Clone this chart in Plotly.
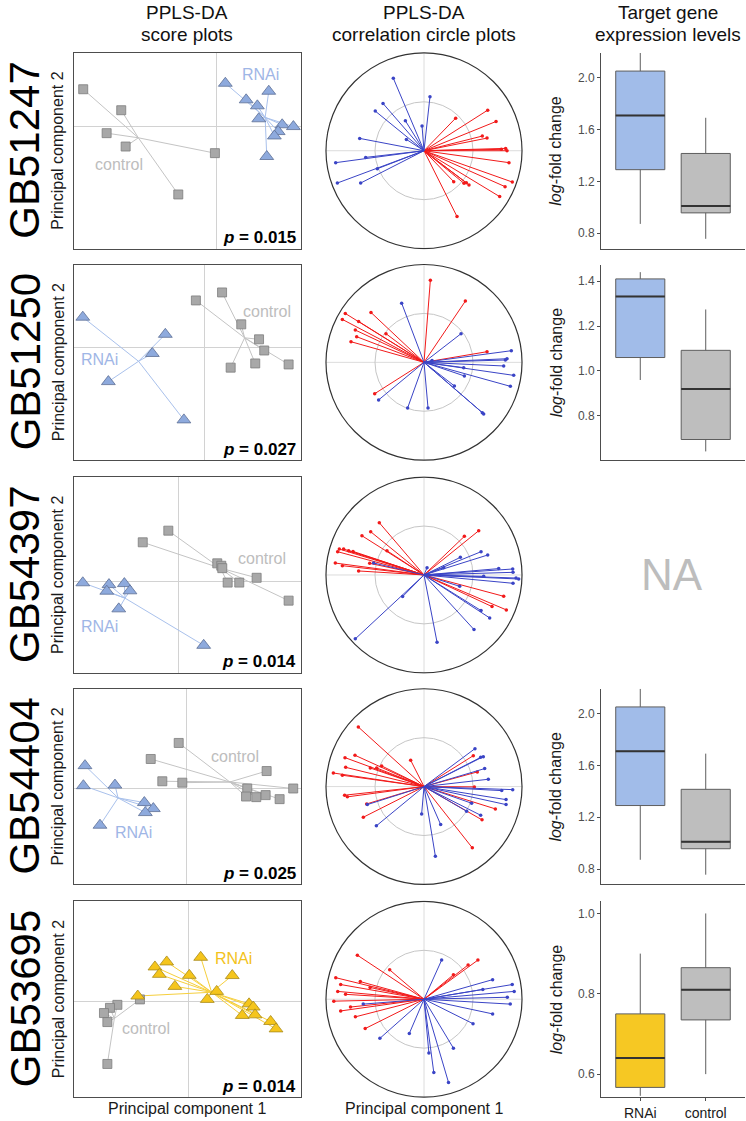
import plotly.graph_objects as go

W, H = 746, 1121
FONT = "Liberation Sans, Arial, sans-serif"

# ---------------- data ----------------
genes = ["GB51247", "GB51250", "GB54397", "GB54404", "GB53695"]
p_values = ["0.015", "0.027", "0.014", "0.025", "0.014"]

# PPLS-DA scores (component 1, component 2)
ctrl_pc1 = [
    [-6.67, -4.77, -5.50, -4.55, -0.09, -1.92],
    [-0.42, 0.89, 1.85, 2.74, 3.00, 2.55, 1.32, 4.22],
    [-0.50, -1.78, 1.95, 2.15, 2.20, 3.92, 2.47, 3.05, 5.52],
    [-0.40, -1.80, 4.00, -1.22, -0.22, 3.03, 5.33, 2.97, 3.48, 3.95, 4.65],
    [-2.42, -3.55, -3.92, -4.22, -4.05, -4.05],
]
ctrl_pc2 = [
    [1.85, 0.80, -0.35, -1.02, -1.35, -3.42],
    [2.37, 2.77, 1.17, 0.42, -0.14, -0.79, -1.00, -0.84],
    [2.55, 1.97, 0.92, 0.80, 0.68, 0.20, -0.04, -0.04, -0.94],
    [2.25, 1.45, 0.85, 0.34, 0.27, -0.02, -0.02, -0.42, -0.45, -0.35, -0.55],
    [0.08, -0.19, -0.34, -0.60, -1.05, -3.14],
]
rnai_pc1 = [
    [0.43, 1.47, 2.60, 2.03, 2.10, 3.27, 3.83, 3.07, 2.88, 2.50],
    [-6.08, -1.95, -2.60, -4.80, -1.02],
    [-4.78, -3.47, -3.58, -2.70, -2.42, -2.98, 1.27],
    [-5.09, -5.17, -3.59, -2.12, -1.67, -2.07, -4.34],
    [-2.53, -1.67, -1.08, -1.45, -0.67, 0.05, 0.62, 2.20, 1.42, 0.95, 3.04, 3.25, 2.70, 3.34, 4.12, 4.39],
]
rnai_pc2 = [
    [2.15, 1.32, 1.75, 1.02, 0.37, 0.07, -0.02, -0.27, -0.49, -1.52],
    [1.53, 0.67, -0.29, -1.70, -3.62],
    [-0.05, -0.14, -0.47, -0.09, -0.45, -1.35, -3.17],
    [1.12, 0.12, 0.15, -0.72, -1.02, -1.22, -1.85],
    [0.25, 1.70, 1.95, 1.33, 0.73, 1.28, 2.18, 1.27, 0.48, 0.08, -0.14, -0.30, -0.72, -0.69, -1.02, -1.39],
]

# correlation circle loadings (x, y) - red and blue variables
red_x = [
    [0.650, 0.323, 0.735, 0.595, 0.643, 0.833, 0.847, 0.789, 0.867, 0.901, 0.827, 0.772, 0.303, 0.408, 0.459, 0.432, 0.337],
    [0.065, 0.422, -0.803, -0.833, -0.541, -0.667, -0.701, -0.687, -0.745, -0.388, 0.643, -0.503],
    [-0.456, -0.544, -0.633, -0.864, -0.820, -0.881, -0.769, -0.724, -0.905, -0.833, -0.554, -0.667, -0.378, 0.412, 0.558, 0.813, 0.840, 0.694],
    [-0.670, -0.704, -0.806, -0.799, -0.548, -0.483, -0.432, -0.925, -0.833, -0.136, -0.810, -0.782, -0.585, -0.619, 0.503, 0.544, 0.514, 0.728, 0.592, 0.493],
    [-0.90, -0.85, -0.88, -0.80, -0.92, -0.75, -0.85, -0.65, -0.55, -0.70, -0.60, 0.55, 0.45, 0.30, -0.35, -0.68],
]
red_y = [
    [0.415, 0.333, 0.299, 0.150, 0.129, 0.024, 0.000, 0.014, -0.122, -0.320, -0.367, -0.469, -0.316, -0.333, -0.350, -0.327, -0.673],
    [0.840, 0.626, 0.500, 0.439, 0.510, 0.418, 0.330, 0.262, 0.211, 0.293, 0.109, -0.320],
    [0.534, 0.442, 0.401, 0.265, 0.265, 0.238, 0.248, 0.241, 0.122, 0.095, 0.119, 0.041, 0.248, 0.395, 0.452, -0.218, -0.357, -0.323],
    [0.609, 0.320, 0.296, 0.197, 0.190, 0.190, 0.211, 0.139, 0.116, 0.269, -0.088, -0.105, -0.177, -0.313, 0.316, 0.150, -0.003, -0.228, -0.340, -0.626],
    [0.22, 0.15, 0.08, 0.05, -0.02, -0.08, -0.12, 0.18, 0.12, -0.18, -0.30, 0.40, 0.35, 0.25, 0.30, 0.45],
]
blue_x = [
    [-0.313, 0.061, -0.418, -0.497, -0.190, -0.020, -0.180, -0.656, -0.595, -0.901, -0.476, -0.884, -0.646],
    [-0.228, 0.378, 0.891, 0.847, 0.830, 0.813, 0.405, 0.915, 0.881, 0.412, 0.310, 0.595, 0.609, -0.463, -0.167, 0.041, 0.082],
    [-0.514, 0.031, 0.582, 0.650, 0.371, 0.201, 0.762, 0.905, 0.908, 0.609, 0.939, 0.966, 0.908, 0.364, 0.582, 0.670, 0.510, 0.133, -0.218, -0.701],
    [0.520, 0.578, 0.605, 0.619, 0.656, 0.905, 0.793, 0.837, 0.837, 0.486, 0.578, 0.435, 0.170, 0.116, -0.024, -0.486, -0.578],
    [0.90, 0.92, 0.85, 0.88, 0.70, 0.60, -0.45, -0.62, 0.10, 0.05, 0.30, 0.25, 0.18, 0.50, -0.15, 0.70],
]
blue_y = [
    [0.741, 0.551, 0.483, 0.405, 0.306, 0.252, 0.116, 0.126, -0.068, -0.122, -0.184, -0.330, -0.330],
    [0.605, 0.293, 0.119, 0.037, 0.024, -0.037, -0.054, -0.133, -0.245, -0.139, -0.241, -0.514, -0.527, -0.384, -0.466, -0.466, 0.020],
    [0.122, 0.075, 0.238, 0.204, 0.180, 0.075, 0.065, 0.061, 0.027, -0.014, -0.031, -0.041, -0.085, -0.116, -0.364, -0.439, -0.558, -0.687, -0.221, -0.653],
    [0.388, 0.299, 0.306, 0.184, 0.075, -0.031, -0.041, -0.133, -0.184, -0.170, -0.293, -0.252, -0.388, -0.711, -0.279, -0.401, -0.184],
    [0.15, 0.08, 0.02, -0.05, 0.20, 0.10, -0.40, -0.05, -0.75, -0.55, -0.50, -0.85, 0.40, -0.25, -0.35, -0.15],
]

# target gene expression (log-fold change): [lower whisker, Q1, median, Q3, upper whisker]
box_groups = ["RNAi", "control"]
rnai_stats = [
    [0.872, 1.29, 1.708, 2.05, 2.19],
    [0.96, 1.06, 1.332, 1.41, 1.44],
    None,
    [0.872, 1.29, 1.708, 2.05, 2.19],
    [0.546, 0.567, 0.64, 0.75, 0.90],
]
ctrl_stats = [
    [0.757, 0.957, 1.01, 1.415, 1.69],
    [0.642, 0.695, 0.92, 1.092, 1.274],
    None,
    [0.757, 0.957, 1.01, 1.415, 1.69],
    [0.60, 0.735, 0.81, 0.865, 1.00],
]

# ---------------- layout / styles ----------------
row_tops = [53, 265, 478, 690, 903]
row_h = 196
score_x = (74, 301)
circ_x = (325, 523)
box_x = (601, 745)

score_xrange = [[-7.13, 4.21], [-6.52, 4.84], [-5.22, 6.14], [-5.64, 5.72], [-5.72, 5.64]]
score_yrange = [[-6.13, 3.67], [-5.64, 4.17], [-4.54, 5.22], [-4.80, 4.95], [-4.79, 4.97]]
rnai_label_pos = [(2.17, 2.57), (-5.22, -0.59), (-3.92, -2.22), (-2.67, -2.19), (2.25, 2.12)]
ctrl_label_pos = [(-4.87, -1.94), (3.12, 1.83), (4.17, 1.15), (2.42, 1.59), (-2.12, -1.39)]
box_yrange = [[0.682, 2.19], [0.603, 1.474], None, [0.682, 2.19], [0.543, 1.03]]
box_ticks = [[0.8, 1.2, 1.6, 2.0], [0.8, 1.0, 1.2, 1.4], None, [0.8, 1.2, 1.6, 2.0], [0.6, 0.8, 1.0]]

BLUE_FILL, BLUE_EDGE, BLUE_LINE, BLUE_TXT = "#8eaadd", "#5d6f94", "#a9c1ec", "#9fb6e6"
YEL_FILL, YEL_EDGE, YEL_LINE, YEL_TXT = "#f5c51c", "#a88a1c", "#f6cf3c", "#f3c21a"
GREY_FILL, GREY_EDGE, GREY_LINE, GREY_TXT = "#a8a8a8", "#7d7d7d", "#c4c4c4", "#bdbdbd"
RED, BLUE = "#f21a1a", "#3a44c6"
BOX_BLUE, BOX_GREY, BOX_YEL = "#a1bce9", "#bebebe", "#f6c823"


def xd(a, b):
    return [a / W, b / W]


def yd(top, bottom):
    return [1 - bottom / H, 1 - top / H]


def paper_note(px, py, text, size, color, angle=0, xanchor="center"):
    return dict(x=px / W, y=1 - py / H, xref="paper", yref="paper", text=text,
                textangle=angle, showarrow=False, xanchor=xanchor, yanchor="middle",
                font=dict(family=FONT, size=size, color=color))


fig = go.Figure()
layout = {}
shapes = []
annotations = []
counter = [0]


def new_axes():
    counter[0] += 1
    n = counter[0]
    s = "" if n == 1 else str(n)
    return "xaxis" + s, "yaxis" + s, "x" + s, "y" + s


def centroid_lines(xs, ys):
    cx = sum(xs) / len(xs)
    cy = sum(ys) / len(ys)
    lx, ly = [], []
    for x, y in zip(xs, ys):
        lx += [x, cx, None]
        ly += [y, cy, None]
    return lx, ly


def spokes(xs, ys):
    lx, ly = [], []
    for x, y in zip(xs, ys):
        lx += [0, x, None]
        ly += [0, y, None]
    return lx, ly


for i, gene in enumerate(genes):
    top = row_tops[i]
    bot = top + row_h
    mid = top + row_h / 2
    yellow = (i == 4)
    tri_fill = YEL_FILL if yellow else BLUE_FILL
    tri_edge = YEL_EDGE if yellow else BLUE_EDGE
    tri_line = YEL_LINE if yellow else BLUE_LINE
    tri_txt = YEL_TXT if yellow else BLUE_TXT

    # ---- score plot ----
    xa, ya, xr, yr = new_axes()
    common = dict(showgrid=False, zeroline=True, zerolinecolor="#d2d2d2", zerolinewidth=1,
                  showline=True, mirror=True, linecolor="#4d4d4d", linewidth=1,
                  showticklabels=False, ticks="")
    layout[xa] = dict(domain=xd(*score_x), anchor=yr, range=score_xrange[i], **common)
    layout[ya] = dict(domain=yd(top, bot), anchor=xr, range=score_yrange[i], **common)
    lx, ly = centroid_lines(ctrl_pc1[i], ctrl_pc2[i])
    fig.add_trace(go.Scatter(x=lx, y=ly, mode="lines", line=dict(color=GREY_LINE, width=1),
                             xaxis=xr, yaxis=yr, showlegend=False, hoverinfo="skip"))
    lx, ly = centroid_lines(rnai_pc1[i], rnai_pc2[i])
    fig.add_trace(go.Scatter(x=lx, y=ly, mode="lines", line=dict(color=tri_line, width=1),
                             xaxis=xr, yaxis=yr, showlegend=False, hoverinfo="skip"))
    fig.add_trace(go.Scatter(x=ctrl_pc1[i], y=ctrl_pc2[i], mode="markers",
                             marker=dict(symbol="square", size=9, color=GREY_FILL,
                                         line=dict(color=GREY_EDGE, width=0.8)),
                             xaxis=xr, yaxis=yr, showlegend=False))
    fig.add_trace(go.Scatter(x=rnai_pc1[i], y=rnai_pc2[i], mode="markers",
                             marker=dict(symbol="triangle-up", size=12, color=tri_fill,
                                         line=dict(color=tri_edge, width=0.8)),
                             xaxis=xr, yaxis=yr, showlegend=False))
    annotations.append(dict(x=rnai_label_pos[i][0], y=rnai_label_pos[i][1], xref=xr, yref=yr,
                            xanchor="center", yanchor="middle",
                            text="RNAi", showarrow=False, font=dict(family=FONT, size=16, color=tri_txt)))
    annotations.append(dict(x=ctrl_label_pos[i][0], y=ctrl_label_pos[i][1], xref=xr, yref=yr,
                            xanchor="center", yanchor="middle",
                            text="control", showarrow=False, font=dict(family=FONT, size=16, color=GREY_TXT)))
    annotations.append(paper_note(score_x[1] - 3, bot - 11, "<b><i>p</i> = " + p_values[i] + "</b>",
                                  17, "#000000", xanchor="right"))
    annotations.append(paper_note(58, mid, "Principal component 2", 16, "#1a1a1a", angle=-90))
    annotations.append(paper_note(25, mid, gene, 42, "#000000", angle=-90))

    # ---- correlation circle ----
    xa, ya, xr, yr = new_axes()
    layout[xa] = dict(domain=xd(*circ_x), anchor=yr, range=[-1.01, 1.01], visible=False)
    layout[ya] = dict(domain=yd(top - 1, bot + 1), anchor=xr, range=[-1.01, 1.01], visible=False)
    shapes.append(dict(type="line", xref=xr, yref=yr, x0=-1, x1=1, y0=0, y1=0,
                       line=dict(color="#dcdcdc", width=1), layer="below"))
    shapes.append(dict(type="line", xref=xr, yref=yr, x0=0, x1=0, y0=-1, y1=1,
                       line=dict(color="#dcdcdc", width=1), layer="below"))
    shapes.append(dict(type="circle", xref=xr, yref=yr, x0=-0.5, x1=0.5, y0=-0.5, y1=0.5,
                       line=dict(color="#c6c6c6", width=1), layer="below"))
    shapes.append(dict(type="circle", xref=xr, yref=yr, x0=-1, x1=1, y0=-1, y1=1,
                       line=dict(color="#333333", width=1.2), layer="below"))
    for vx, vy, col in ((red_x[i], red_y[i], RED), (blue_x[i], blue_y[i], BLUE)):
        lx, ly = spokes(vx, vy)
        fig.add_trace(go.Scatter(x=lx, y=ly, mode="lines", line=dict(color=col, width=1),
                                 xaxis=xr, yaxis=yr, showlegend=False, hoverinfo="skip"))
        fig.add_trace(go.Scatter(x=vx, y=vy, mode="markers", marker=dict(size=3.5, color=col),
                                 xaxis=xr, yaxis=yr, showlegend=False))

    # ---- box plot ----
    if rnai_stats[i] is None:
        annotations.append(paper_note(672, mid, "NA", 44, "#bdbdbd"))
        continue
    xa, ya, xr, yr = new_axes()
    last = (i == len(genes) - 1)
    layout[xa] = dict(domain=xd(*box_x), anchor=yr, type="category", categoryorder="array",
                      categoryarray=box_groups, range=[-0.6, 1.6], showgrid=False, zeroline=False,
                      showline=True, linecolor="#4d4d4d", linewidth=1,
                      ticks="outside" if last else "", ticklen=3, tickcolor="#4d4d4d",
                      showticklabels=last, tickfont=dict(family=FONT, size=14, color="#1a1a1a"))
    layout[ya] = dict(domain=yd(top, bot), anchor=xr, range=box_yrange[i], showgrid=False,
                      zeroline=False, showline=True, linecolor="#4d4d4d", linewidth=1,
                      ticks="outside", ticklen=3, tickcolor="#4d4d4d", tickvals=box_ticks[i],
                      tickformat=".1f", tickfont=dict(family=FONT, size=12, color="#4d4d4d"))
    fills = [BOX_YEL if yellow else BOX_BLUE, BOX_GREY]
    for g, st, fc in zip(box_groups, (rnai_stats[i], ctrl_stats[i]), fills):
        fig.add_trace(go.Box(x=[g], lowerfence=[st[0]], q1=[st[1]], median=[st[2]], q3=[st[3]],
                             upperfence=[st[4]], width=0.75, whiskerwidth=0, fillcolor=fc,
                             line=dict(color="#5e5e5e", width=1), boxpoints=False,
                             xaxis=xr, yaxis=yr, showlegend=False, hoverinfo="skip"))
        # darker, thicker median bar (a zero-height box at the median)
        m = st[2]
        fig.add_trace(go.Box(x=[g], lowerfence=[m], q1=[m], median=[m], q3=[m], upperfence=[m],
                             width=0.75, whiskerwidth=0, fillcolor="rgba(0,0,0,0)",
                             line=dict(color="#333333", width=2), boxpoints=False,
                             xaxis=xr, yaxis=yr, showlegend=False, hoverinfo="skip"))
    annotations.append(paper_note(556, mid, "<i>log</i>-fold change", 16, "#1a1a1a", angle=-90))

# column titles
titles = [(187, "PPLS-DA", "score plots"),
          (424, "PPLS-DA", "correlation circle plots"),
          (668, "Target gene", "expression levels")]
for cx, l1, l2 in titles:
    annotations.append(paper_note(cx, 13, l1, 19, "#111111"))
    annotations.append(paper_note(cx, 35, l2, 19, "#111111"))
for cx in (187, 424):
    annotations.append(paper_note(cx, 1110, "Principal component 1", 16, "#1a1a1a"))

fig.update_layout(**layout)
fig.update_layout(width=W, height=H, margin=dict(l=0, r=0, t=0, b=0),
                  paper_bgcolor="white", plot_bgcolor="white", boxmode="overlay",
                  shapes=shapes, annotations=annotations, showlegend=False,
                  font=dict(family=FONT))
fig.write_html("out.html", config={"displayModeBar": False},
               post_script="document.body.style.margin='0px';")
